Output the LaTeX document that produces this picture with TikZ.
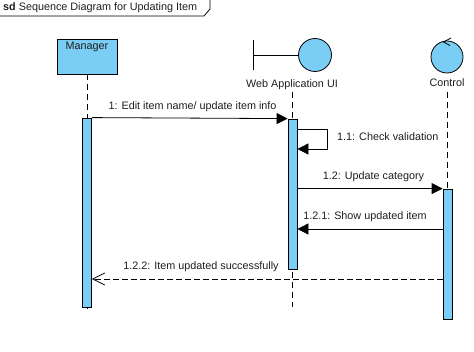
\documentclass[tikz,border=0pt]{standalone}
\usepackage{fontspec}
\setmainfont{Liberation Sans}
\usetikzlibrary{arrows.meta}
\definecolor{actfill}{RGB}{122,206,245}
\definecolor{ink}{RGB}{30,30,30}
\begin{document}
\begin{tikzpicture}[x=1pt,y=-1pt,
  txt/.style={font=\fontsize{10.8}{12}\selectfont, inner sep=0pt, text=ink},
  headbox/.style={draw, fill=actfill, line width=0.8pt, minimum width=60pt, minimum height=35pt, inner sep=0pt},
  headcirc/.style={draw, fill=actfill, line width=0.8pt, circle, inner sep=0pt},
  bar/.style={draw, fill=actfill, line width=0.8pt, minimum width=9pt, inner sep=0pt},
  life/.style={line width=0.8pt, dash pattern=on 6pt off 4pt},
  msg/.style={line width=0.8pt, -{Triangle[length=11pt,width=11pt]}},
  ret/.style={line width=0.8pt, dash pattern=on 6pt off 3pt, -{Straight Barb[length=12pt,width=12pt,line width=0.8pt]}},
]
\useasboundingbox (0,0) rectangle (474,352);

% frame tab
\draw[line width=0.8pt] (0,16) -- (204,16) -- (210,9) -- (210,0);
\node[txt, anchor=west] (title) at (3,8) {\textbf{sd} Sequence Diagram for Updating Item};

% Manager head
\node[headbox] (manager) at (87,56.5) {};
\node[txt, anchor=north] (managerl) at (manager.north) [yshift=-3pt] {Manager};

% Web Application UI boundary head
\node[headcirc, minimum size=33pt] (webc) at (315,55) {};
\coordinate (wbtop) at (253,40);
\coordinate (wbbot) at (253,70);
\coordinate (wbmid) at (253,55);
\draw[line width=0.8pt] (wbtop) -- (wbbot);
\draw[line width=0.8pt] (wbmid) -- (webc.west);
\node[txt] (webl) at (292,85) {Web Application UI};

% Control head
\node[headcirc, minimum size=32pt] (ctrlc) at (447,57) {};
\coordinate (ca1) at (451,38);
\coordinate (ca0) at (443.5,42);
\coordinate (ca2) at (450,45.5);
\draw[line width=0.8pt] (ca1) -- (ca0) -- (ca2);
\node[txt] (ctrll) at (447,83) {Control};

% lifelines
\coordinate (mend) at (87,309);
\coordinate (wend) at (292.5,307);
\coordinate (cend) at (447.5,319);
\draw[life] (manager.south) -- (mend);
\draw[life] (292.5,92) -- (wend);
\draw[life] (447.5,92) -- (cend);

% activation bars
\node[bar, minimum height=189pt] (mbar) at (87,212.5) {};
\node[bar, minimum height=150pt] (wbar) at (292.5,194) {};
\node[bar, minimum height=130pt] (cbar) at (447.5,254) {};

% message levels
\coordinate (y11a) at (297,129);
\coordinate (y11b) at (327,129);
\coordinate (y11c) at (327,149);
\coordinate (y11d) at (297,149);
\coordinate (y121) at (0,229);
\coordinate (y122) at (0,279);

% 1
\draw[msg] (mbar.north east) -- (wbar.north west);
\node[txt] (l1) at (192.5,107) {1: Edit item name/ update item info};

% 1.1 self call
\draw[msg] (wbar.east |- y11a) -- (y11b) -- (y11c) -- (wbar.east |- y11d);
\node[txt, anchor=west] (l11) at (337,137) {1.1: Check validation};

% 1.2
\draw[msg] (wbar.east |- cbar.north) -- (cbar.north west);
\node[txt] (l12) at (373.5,177) {1.2: Update category};

% 1.2.1
\draw[msg] (cbar.west |- y121) -- (wbar.east |- y121);
\node[txt] (l121) at (365,217) {1.2.1: Show updated item};

% 1.2.2 return
\draw[ret] (cbar.west |- y122) -- (mbar.east |- y122);
\node[txt] (l122) at (201,267) {1.2.2: Item updated successfully};
\end{tikzpicture}
\end{document}
